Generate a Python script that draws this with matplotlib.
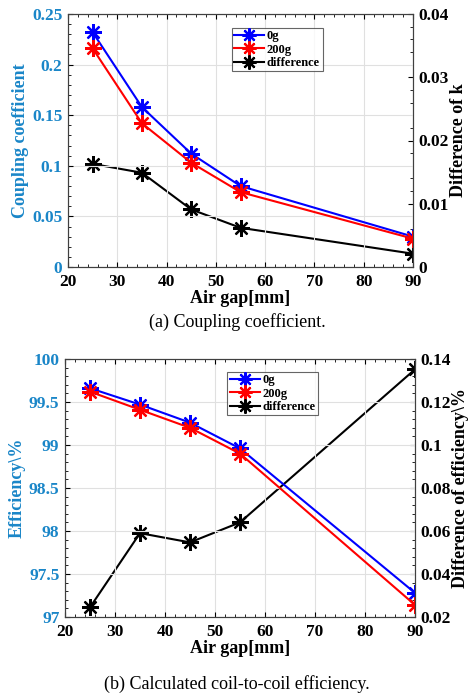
import matplotlib.pyplot as plt
from matplotlib.ticker import AutoMinorLocator

plt.rcParams['font.family'] = ['Liberation Serif', 'DejaVu Serif']
plt.rcParams['font.weight'] = 'bold'

# data
gap = [25, 35, 45, 55, 90]
k_0g = [0.232, 0.158, 0.112, 0.080, 0.030]
k_200g = [0.216, 0.142, 0.103, 0.074, 0.028]
k_diff = [0.0163, 0.0149, 0.0091, 0.0062, 0.0021]

eff_0g = [99.66, 99.47, 99.26, 98.96, 97.28]
eff_200g = [99.62, 99.41, 99.20, 98.90, 97.14]
eff_diff = [0.0245, 0.059, 0.0547, 0.064, 0.1352]

k_ticks = [0, 0.05, 0.1, 0.15, 0.2, 0.25]
kd_ticks = [0, 0.01, 0.02, 0.03, 0.04]
eff_ticks = [97, 97.5, 98, 98.5, 99, 99.5, 100]
effd_ticks = [0.02, 0.04, 0.06, 0.08, 0.1, 0.12, 0.14]

blue_lbl = '#1a86c8'
W, H = 474, 696
star = (8, 2, 0)  # asterisk marker


def lbl(v):
    return ('%g' % v)


def panel(rect, y0, y1, d, left_ticks, right_ticks,
          ylab, rlab, caption, cap_y, leg_xy):
    ax = fig.add_axes(rect)
    ax2 = ax.twinx()
    kw = dict(lw=1.5, ms=12, mew=1.6)
    l1, = ax.plot(gap, y0, '-', marker=star, color='#0000ff', label='0g', **kw)
    l2, = ax.plot(gap, y1, '-', marker=star, color='#ff0000', label='200g', **kw)
    l3, = ax2.plot(gap, d, '-', marker=star, color='black', label='difference', **kw)
    ax.set_xlim(20, 90)
    ax.set_xticks(range(20, 91, 10))
    ax.set_ylim(left_ticks[0], left_ticks[-1])
    ax.set_yticks(left_ticks)
    ax.set_yticklabels([lbl(v) for v in left_ticks])
    ax2.set_ylim(right_ticks[0], right_ticks[-1])
    ax2.set_yticks(right_ticks)
    ax2.set_yticklabels([lbl(v) for v in right_ticks])
    ax.set_zorder(ax2.get_zorder() + 1)
    ax.patch.set_visible(False)
    ax.grid(True, color='#e0e0e0', lw=0.8)
    for a in (ax, ax2):
        a.xaxis.set_minor_locator(AutoMinorLocator(5))
        a.yaxis.set_minor_locator(AutoMinorLocator(5))
        a.tick_params(which='both', direction='in', top=True, labelsize=12.5)
        a.tick_params(which='minor', length=2)
        a.tick_params(which='major', length=3.5)
        a.tick_params(axis='x', pad=5)
        a.tick_params(axis='y', pad=4)
        for s in a.spines.values():
            s.set_color('#404040')
    ax.tick_params(axis='y', labelcolor=blue_lbl)
    for t in ax.get_xticklabels() + ax.get_yticklabels() + ax2.get_yticklabels():
        t.set_fontweight('bold')
    ax.set_xlabel('Air gap[mm]', fontsize=13, fontweight='bold', labelpad=0)
    ax.set_ylabel(ylab, fontsize=13, fontweight='bold', color=blue_lbl, labelpad=2)
    ax2.set_ylabel(rlab, fontsize=13, fontweight='bold', labelpad=1)
    leg = ax.legend(handles=[l1, l2, l3], loc='upper left', bbox_to_anchor=leg_xy,
                    fontsize=9, frameon=True, fancybox=False, handlelength=2.4,
                    handletextpad=0.2, borderpad=0.2, labelspacing=0.1,
                    borderaxespad=0, markerscale=0.85)
    leg.get_frame().set_edgecolor('#404040')
    leg.get_frame().set_linewidth(0.8)
    for t in leg.get_texts():
        t.set_fontweight('bold')
    fig.text(0.5, cap_y, caption, ha='center', va='center', fontsize=13,
             fontweight='normal')
    return ax


fig = plt.figure(figsize=(W / 100, H / 100), dpi=100)

panel([68 / W, 1 - 267 / H, 345 / W, 253 / H], k_0g, k_200g, k_diff,
      k_ticks, kd_ticks,
      'Coupling coefficient', 'Difference of k',
      '(a) Coupling coefficient.', 1 - 322 / H, (0.475, 0.945))

panel([65 / W, 1 - 617 / H, 350 / W, 258 / H], eff_0g, eff_200g, eff_diff,
      eff_ticks, effd_ticks,
      'Efficiency\\%', 'Difference of efficiency\\%',
      '(b) Calculated coil-to-coil efficiency.', 1 - 684 / H, (0.463, 0.95))

fig.savefig('out.png', dpi=100)
